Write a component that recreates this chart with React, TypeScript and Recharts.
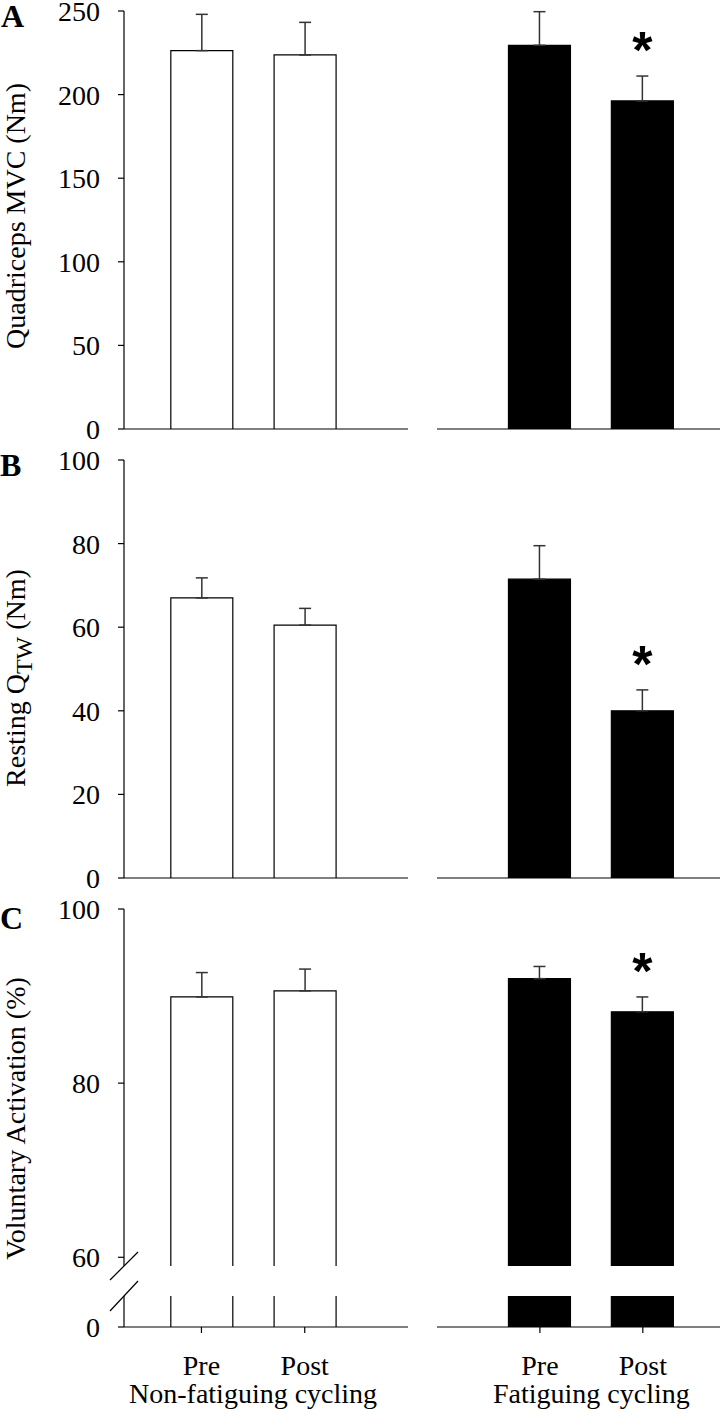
import React from "react";
import { BarChart, Bar, XAxis, YAxis, ErrorBar, LabelList } from "recharts";

// bar positions on the numeric x axis, and their tick names
const positions = [1, 2];
const tickNames = ["Pre", "Post"];
const groups = ["Non-fatiguing cycling", "Fatiguing cycling"];

// A: quadriceps MVC (Nm), mean and SE
const mvcNonFat = [226.3, 223.7];
const mvcNonFatErr = [21.7, 19.5];
const mvcFat = [229.5, 196.2];
const mvcFatErr = [20.1, 14.9];
const mvcTicks = [0, 50, 100, 150, 200, 250];

// B: resting twitch (Nm)
const twNonFat = [67.0, 60.5];
const twNonFatErr = [4.8, 4.0];
const twFat = [71.5, 40.0];
const twFatErr = [8.0, 5.0];
const twTicks = [0, 20, 40, 60, 80, 100];

// C: voluntary activation (%), broken axis
const vaNonFat = [89.9, 90.6];
const vaNonFatErr = [2.8, 2.5];
const vaFat = [92.0, 88.2];
const vaFatErr = [1.4, 1.7];
const vaTicks = [60, 80, 100];

const noStars = ["", ""];
const fatStars = ["", "*"];

const SERIF = "'Liberation Serif', 'Times New Roman', serif";
const AX = 124; // y axis position
const LEFT_W = 408;
const RIGHT_X = 437;
const RIGHT_W = 283;
const TOP_M = 20;
const LEFT_DOM: [number, number] = [0.25, 3];
const RIGHT_DOM: [number, number] = [0, 2.75];

const rows = (vals: number[], errs: number[], stars: string[]) =>
  positions.map((x, i) => ({ x, v: vals[i], e: [0, errs[i]], s: stars[i] }));

// bar outline without the bottom edge (the axis / break sits there)
const OpenBar = (p: any) => {
  const { x, y, width, height, fill } = p;
  if (width == null || height == null) return null;
  return (
    <g>
      <rect x={x} y={y} width={width} height={height} fill={fill} />
      <path d={`M${x},${y + height}L${x},${y}L${x + width},${y}L${x + width},${y + height}`} fill="none" stroke="#000" strokeWidth={1.2} />
    </g>
  );
};

const starAt = (vals: number[], errs: number[], base: number) => (p: any) => {
  if (!p.value) return null;
  const vb = p.viewBox ?? p;
  const h = Math.abs(vb.height);
  const top = Math.min(vb.y, vb.y + vb.height);
  const ppu = h / (vals[p.index] - base);
  const yErr = top - errs[p.index] * ppu;
  return (
    <text x={vb.x + vb.width / 2} y={yErr - 36 + 28} textAnchor="middle" fontSize={52} fontWeight="bold" fontFamily="'Liberation Sans', Arial, sans-serif" fill="#000">
      {p.value}
    </text>
  );
};

const yTitle = (content: React.ReactNode, dy = 0) => (p: any) => {
  const vb = p.viewBox ?? {};
  const cy = (vb.y ?? 0) + (vb.height ?? 0) / 2 + dy;
  return (
    <text x={25} y={cy} transform={`rotate(-90 25 ${cy})`} textAnchor="middle" fontSize={28} fontFamily={SERIF} fill="#000">
      {content}
    </text>
  );
};

const groupTitle = (text: string, dom: [number, number]) => (p: any) => {
  const vb = p.viewBox ?? {};
  const cx = vb.x + ((1.5 - dom[0]) / (dom[1] - dom[0])) * vb.width;
  return (
    <text x={cx} y={vb.y + 76} textAnchor="middle" fontSize={28} fontFamily={SERIF} fill="#000">
      {text}
    </text>
  );
};

type PaneProps = {
  left: boolean;
  vals: number[];
  errs: number[];
  stars: string[];
  fill: string;
  plotTop: number;
  plotH: number;
  xMode: "none" | "ticks" | "labels";
  yDomain: [number, number];
  yTicks: number[];
  clip?: boolean;
  withErr?: boolean;
  title?: any;
  group?: string;
};

function Pane(pr: PaneProps) {
  const dom = pr.left ? LEFT_DOM : RIGHT_DOM;
  const xH = pr.xMode === "labels" ? 90 : pr.xMode === "ticks" ? 20 : 0;
  const bottomM = pr.xMode === "none" ? 20 : 0;
  const data = rows(pr.vals, pr.errs, pr.stars);
  const base = pr.yDomain[0];
  return (
    <div style={{ position: "absolute", left: pr.left ? 0 : RIGHT_X, top: pr.plotTop - TOP_M }}>
      <BarChart
        width={pr.left ? LEFT_W : RIGHT_W}
        height={TOP_M + pr.plotH + xH + bottomM}
        data={data}
        margin={{ top: TOP_M, right: 0, left: 0, bottom: bottomM }}
        barSize={62}
      >
        <XAxis
          type="number"
          dataKey="x"
          domain={dom}
          ticks={positions}
          interval={0}
          hide={pr.xMode === "none"}
          height={xH}
          axisLine={{ stroke: "#000", strokeWidth: 1.2 }}
          tickLine={{ stroke: "#000", strokeWidth: 1.2 }}
          tickSize={6}
          tickMargin={22}
          tick={pr.xMode === "labels" ? { fill: "#000", fontSize: 28, fontFamily: SERIF } : false}
          tickFormatter={(v: number) => tickNames[v - 1]}
          label={pr.group ? { content: groupTitle(pr.group, dom) } : undefined}
        />
        <YAxis
          hide={!pr.left}
          width={AX}
          domain={pr.yDomain}
          ticks={pr.yTicks}
          interval={0}
          allowDataOverflow={!!pr.clip}
          axisLine={{ stroke: "#000", strokeWidth: 1.2 }}
          tickLine={{ stroke: "#000", strokeWidth: 1.2 }}
          tickSize={6}
          tickMargin={18}
          tick={{ fill: "#000", fontSize: 28, fontFamily: SERIF }}
          label={pr.title ? { content: pr.title } : undefined}
        />
        <Bar dataKey="v" fill={pr.fill} shape={OpenBar} isAnimationActive={false}>
          {pr.withErr !== false && <ErrorBar dataKey="e" width={6} stroke="#333" strokeWidth={1.5} />}
          {pr.withErr !== false && <LabelList dataKey="s" content={starAt(pr.vals, pr.errs, base)} />}
        </Bar>
      </BarChart>
    </div>
  );
}

export default function App() {
  const cUpTop = 909;
  const cUpBot = 1266;
  const cLoTop = 1296;
  const cLoBot = 1327;
  return (
    <div style={{ position: "absolute", left: 0, top: 0, width: 720, height: 1414, background: "#fff", overflow: "hidden" }}>
      {/* A */}
      <Pane left vals={mvcNonFat} errs={mvcNonFatErr} stars={noStars} fill="#fff" plotTop={11} plotH={418} xMode="ticks" yDomain={[0, 250]} yTicks={mvcTicks} title={yTitle("Quadriceps MVC (Nm)", -4)} />
      <Pane left={false} vals={mvcFat} errs={mvcFatErr} stars={fatStars} fill="#000" plotTop={11} plotH={418} xMode="ticks" yDomain={[0, 250]} yTicks={mvcTicks} />
      {/* B */}
      <Pane left vals={twNonFat} errs={twNonFatErr} stars={noStars} fill="#fff" plotTop={460} plotH={418} xMode="ticks" yDomain={[0, 100]} yTicks={twTicks}
        title={yTitle(<>Resting Q<tspan fontSize={24} dy={7}>TW</tspan><tspan dy={-7}> (Nm)</tspan></>, 9)} />
      <Pane left={false} vals={twFat} errs={twFatErr} stars={fatStars} fill="#000" plotTop={460} plotH={418} xMode="ticks" yDomain={[0, 100]} yTicks={twTicks} />
      {/* C upper */}
      <Pane left vals={vaNonFat} errs={vaNonFatErr} stars={noStars} fill="#fff" plotTop={cUpTop} plotH={cUpBot - cUpTop} xMode="none" yDomain={[59, 100]} yTicks={vaTicks} clip title={yTitle("Voluntary Activation (%)", 31)} />
      <Pane left={false} vals={vaFat} errs={vaFatErr} stars={fatStars} fill="#000" plotTop={cUpTop} plotH={cUpBot - cUpTop} xMode="none" yDomain={[59, 100]} yTicks={vaTicks} clip />
      {/* C lower stub */}
      <Pane left vals={vaNonFat} errs={vaNonFatErr} stars={noStars} fill="#fff" plotTop={cLoTop} plotH={cLoBot - cLoTop} xMode="labels" yDomain={[0, 1]} yTicks={[0]} clip withErr={false} group={groups[0]} />
      <Pane left={false} vals={vaFat} errs={vaFatErr} stars={noStars} fill="#000" plotTop={cLoTop} plotH={cLoBot - cLoTop} xMode="labels" yDomain={[0, 1]} yTicks={[0]} clip withErr={false} group={groups[1]} />

      <svg width={720} height={1414} style={{ position: "absolute", left: 0, top: 0, pointerEvents: "none" }}>
        <g fontFamily={SERIF} fontWeight="bold" fontSize={32} fill="#000">
          <text x={1} y={27}>A</text>
          <text x={0} y={476}>B</text>
          <text x={0} y={929}>C</text>
        </g>
        <g stroke="#000" strokeWidth={1.2}>
          <line x1={AX - 14} y1={cUpBot + 14} x2={AX + 14} y2={cUpBot - 14} />
          <line x1={AX - 14} y1={cLoTop + 15} x2={AX + 14} y2={cLoTop - 15} />
        </g>
      </svg>
    </div>
  );
}
